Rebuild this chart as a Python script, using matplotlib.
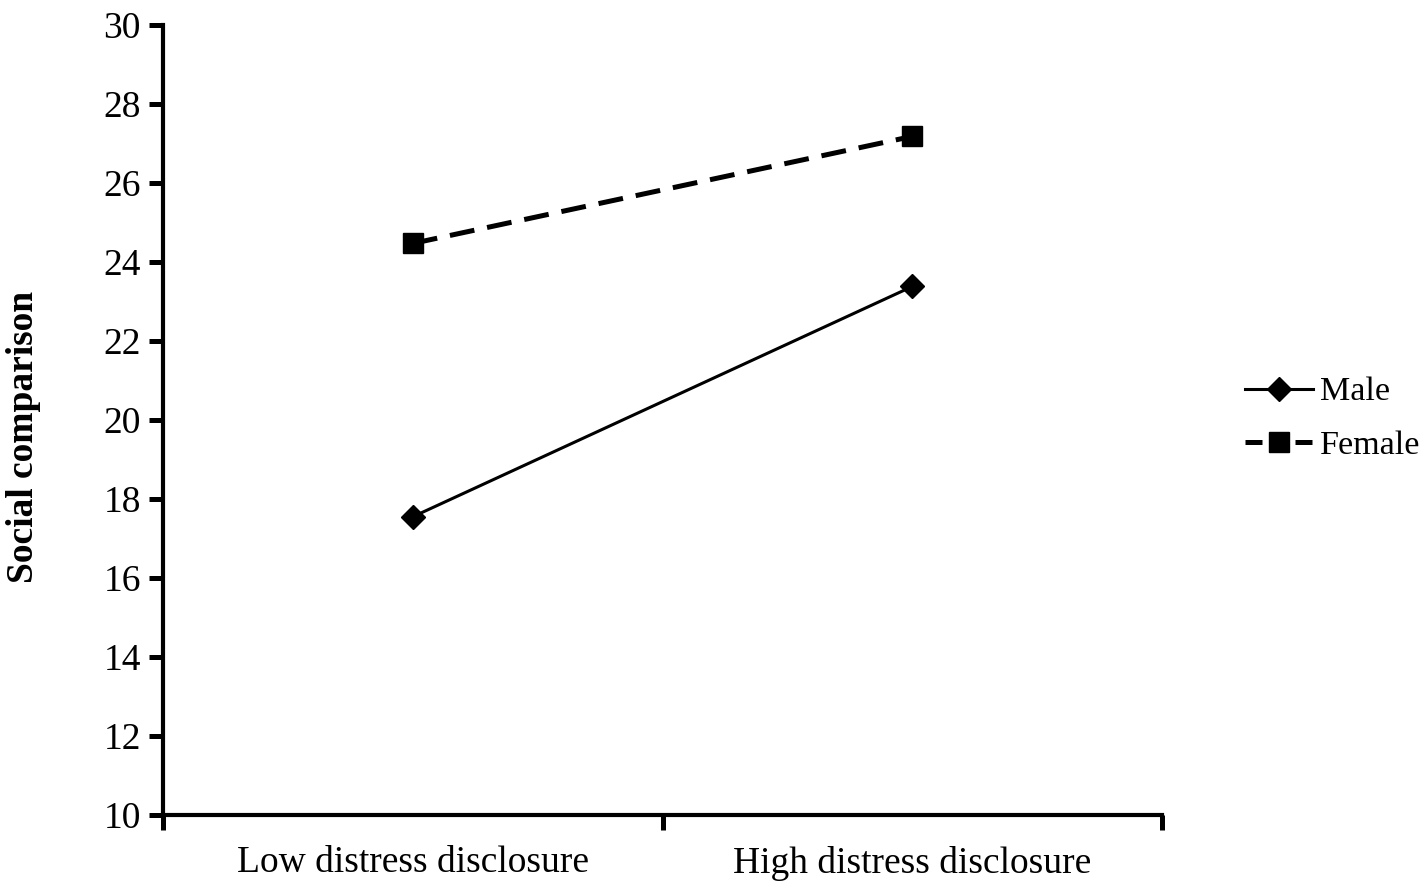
import matplotlib

matplotlib.use("Agg")
import matplotlib.pyplot as plt
from matplotlib.lines import Line2D

plt.rcParams["font.family"] = ["Liberation Serif", "DejaVu Serif"]

# data
CATEGORIES = ["Low distress disclosure", "High distress disclosure"]
MALE = [17.55, 23.38]
FEMALE = [24.47, 27.18]
Y_TICKS = list(range(10, 31, 2))

W, H = 1428, 890
fig = plt.figure(figsize=(W / 100, H / 100), dpi=100)
ax = fig.add_axes([163 / W, 1 - 815 / H, (1162 - 163) / W, (815 - 25) / H])

xs = [0.5, 1.5]
ax.plot(xs, MALE, color="black", linewidth=2.2, marker="D", markersize=12)
ax.plot(xs, FEMALE, color="black", linewidth=3.6, linestyle=(0, (5, 2.6)),
        marker="s", markersize=14)

ax.set_xlim(0, 2)
ax.set_ylim(10, 30)
ax.set_yticks(Y_TICKS)
ax.set_xticks([0, 1, 2])
ax.set_xticklabels([])
ax.set_xticks(xs, minor=True)
ax.set_xticklabels(CATEGORIES, minor=True)
ax.tick_params(axis="x", which="minor", length=0, labelsize=27, pad=22)
ax.tick_params(axis="x", which="major", length=11, width=3.6, direction="out")
ax.tick_params(axis="y", length=10, width=3.6, labelsize=27, pad=6)

for s in ("top", "right"):
    ax.spines[s].set_visible(False)
for s in ("left", "bottom"):
    ax.spines[s].set_linewidth(3.0)

fig.text(24 / W, 1 - 437 / H, "Social comparison", rotation=90, ha="center",
         va="center", fontsize=27, fontweight="bold")

handles = [
    Line2D([], [], color="black", linewidth=2.2, marker="D", markersize=12),
    Line2D([], [], color="black", linewidth=3.6, linestyle=(0, (3.4, 6.6)),
           marker="s", markersize=14),
]
ax.legend(handles, ["Male", "Female"], loc="center left",
          bbox_to_anchor=(1245 / W, 1 - 419 / H), bbox_transform=fig.transFigure,
          frameon=False, fontsize=24.5, handlelength=2.0, labelspacing=0.68,
          handletextpad=0.2, borderpad=0, borderaxespad=0)

fig.savefig("out.png", dpi=100)
